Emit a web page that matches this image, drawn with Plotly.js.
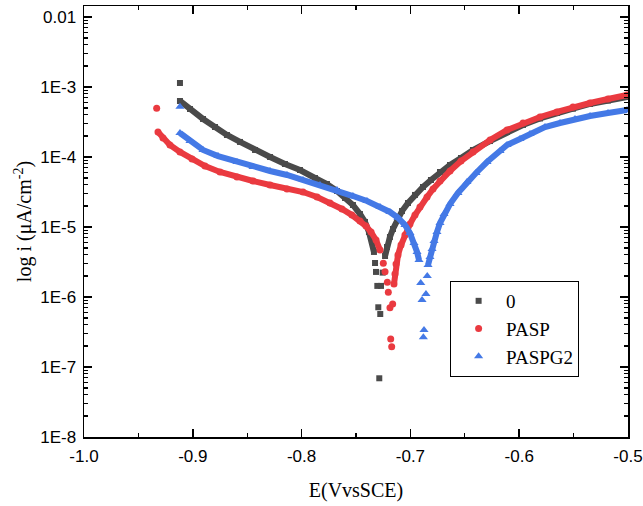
<!DOCTYPE html>
<html>
<head>
<meta charset="utf-8">
<script src="https://cdn.plot.ly/plotly-3.0.1.min.js"></script>
<style>html,body{margin:0;padding:0;background:#fff;}#chart{width:643px;height:506px;}</style>
</head>
<body>
<div id="chart"></div>
<script>
// ---- Series "0" ----
const s0CatE = [-0.9118,-0.9026,-0.8906,-0.8796,-0.8686,-0.8566,-0.8428,-0.8290,-0.8153,-0.8015,-0.7877,-0.7767,-0.7675,-0.7601,-0.7528,-0.7463,-0.7417,-0.7381,-0.7353,-0.7335];
const s0CatI = [6.31e-4,4.85e-4,3.49e-4,2.68e-4,2.06e-4,1.64e-4,1.26e-4,1.0e-4,7.94e-5,6.52e-5,5.01e-5,4.11e-5,3.27e-5,2.60e-5,2.06e-5,1.53e-5,1.18e-5,8.48e-6,6.11e-6,4.40e-6];
const s0AnoE = [-0.7233,-0.7215,-0.7188,-0.7160,-0.7123,-0.7077,-0.7022,-0.6958,-0.6884,-0.6811,-0.6728,-0.6636,-0.6535,-0.6425,-0.6268,-0.6112,-0.5965,-0.5809,-0.5653,-0.5506,-0.5349,-0.5184,-0.5009];
const s0AnoI = [3.85e-6,5.18e-6,7.20e-6,9.36e-6,1.26e-5,1.69e-5,2.20e-5,2.87e-5,3.73e-5,4.69e-5,6.11e-5,7.69e-5,9.68e-5,1.26e-4,1.69e-4,2.28e-4,2.87e-4,3.55e-4,4.25e-4,4.90e-4,5.72e-4,6.41e-4,7.20e-4];
const s0DotE = [-0.9118,-0.7325,-0.7316,-0.7255,-0.7304,-0.7270,-0.7295,-0.7277,-0.7286];
const s0DotI = [1.14e-3,3.06e-6,2.28e-6,2.23e-6,1.44e-6,1.44e-6,7.13e-7,5.71e-7,6.9e-8];

// ---- Series "PASP" ----
const s1CatE = [-0.9320,-0.9274,-0.9210,-0.9118,-0.9007,-0.8888,-0.8750,-0.8594,-0.8447,-0.8290,-0.8134,-0.7987,-0.7858,-0.7739,-0.7629,-0.7537,-0.7463,-0.7408,-0.7362,-0.7316,-0.7279];
const s1CatI = [2.28e-4,1.87e-4,1.48e-4,1.18e-4,9.36e-5,7.43e-5,6.11e-5,5.18e-5,4.54e-5,3.98e-5,3.49e-5,3.16e-5,2.68e-5,2.20e-5,1.81e-5,1.48e-5,1.22e-5,1.03e-5,8.48e-6,6.52e-6,4.69e-6];
const s1AnoE = [-0.7151,-0.7142,-0.7132,-0.7114,-0.7086,-0.7050,-0.7004,-0.6958,-0.6912,-0.6847,-0.6792,-0.6728,-0.6636,-0.6535,-0.6425,-0.6268,-0.6112,-0.5965,-0.5809,-0.5653,-0.5506,-0.5349,-0.5184,-0.5009];
const s1AnoI = [1.53e-6,2.13e-6,2.96e-6,3.98e-6,5.53e-6,7.69e-6,1.10e-5,1.48e-5,1.93e-5,2.68e-5,3.49e-5,4.54e-5,6.31e-5,8.77e-5,1.18e-4,1.75e-4,2.43e-4,3.06e-4,3.73e-4,4.40e-4,5.18e-4,5.91e-4,6.74e-4,7.69e-4];
const s1DotE = [-0.9332,-0.7249,-0.7233,-0.7212,-0.7203,-0.7188,-0.7163,-0.7181,-0.7172];
const s1DotI = [4.97e-4,3.03e-6,2.30e-6,1.62e-6,1.17e-6,7.03e-7,7.94e-7,2.51e-7,1.95e-7];

// ---- Series "PASPG2" ----
const s2CatE = [-0.9118,-0.9026,-0.8906,-0.8768,-0.8594,-0.8447,-0.8290,-0.8134,-0.7987,-0.7831,-0.7675,-0.7528,-0.7399,-0.7279,-0.7188,-0.7114,-0.7050,-0.7004,-0.6967,-0.6939,-0.6921];
const s2CatI = [2.20e-4,1.69e-4,1.26e-4,1.03e-4,8.48e-5,7.20e-5,6.31e-5,5.53e-5,4.69e-5,3.98e-5,3.38e-5,2.77e-5,2.35e-5,1.93e-5,1.64e-5,1.35e-5,1.07e-5,8.21e-6,5.91e-6,4.40e-6,3.38e-6];
const s2AnoE = [-0.6838,-0.6820,-0.6801,-0.6783,-0.6756,-0.6728,-0.6691,-0.6636,-0.6563,-0.6480,-0.6397,-0.6296,-0.6176,-0.6112,-0.5993,-0.5901,-0.5763,-0.5625,-0.5487,-0.5349,-0.5184,-0.5009];
const s2AnoI = [2.87e-6,3.73e-6,4.85e-6,6.31e-6,8.48e-6,1.14e-5,1.53e-5,2.13e-5,3.06e-5,4.40e-5,5.91e-5,8.48e-5,1.22e-4,1.48e-4,1.81e-4,2.13e-4,2.68e-4,3.06e-4,3.49e-4,3.85e-4,4.25e-4,4.69e-4];
const s2DotE = [-0.9118,-0.6905,-0.6893,-0.6875,-0.6881,-0.6857,-0.6845];
const s2DotI = [5.24e-4,1.58e-6,9.06e-7,3.38e-7,2.65e-7,1.10e-6,2.0e-6];

// ---- Names and ticks ----
const seriesNames = ['0','PASP','PASPG2'];
const xTickVals = [-1.0,-0.9,-0.8,-0.7,-0.6,-0.5];
const xTickText = ['-1.0','-0.9','-0.8','-0.7','-0.6','-0.5'];
const yTickVals = [1e-8,1e-7,1e-6,1e-5,1e-4,1e-3,1e-2];
const yTickText = ['1E-8','1E-7','1E-6','1E-5','1E-4','1E-3','0.01'];

const colors = ['#4a4a4a','#ea3a40','#4479e6'];
const symbols = ['square','circle','triangle-up'];
const msizes = [6,7,8];

const groups = [
  [s0CatE,s0CatI,s0AnoE,s0AnoI,s0DotE,s0DotI],
  [s1CatE,s1CatI,s1AnoE,s1AnoI,s1DotE,s1DotI],
  [s2CatE,s2CatI,s2AnoE,s2AnoI,s2DotE,s2DotI]
];

const traces = [];
groups.forEach((g,k)=>{
  const [cE,cI,aE,aI,dE,dI] = g;
  traces.push({
    type:'scatter', mode:'lines', showlegend:false, hoverinfo:'skip',
    x: cE.concat([null], aE), y: cI.concat([null], aI),
    line:{color:colors[k], width:6}, connectgaps:false
  });
  traces.push({
    type:'scatter', mode:'markers', name:seriesNames[k],
    x: cE.concat(aE, dE), y: cI.concat(aI, dI),
    marker:{symbol:symbols[k], size:msizes[k], color:colors[k], line:{width:0}}
  });
});

const yMinor = [];
for (let e=-8; e<-1; e++) for (let m=2; m<=9; m++) yMinor.push(m*Math.pow(10,e));

const axisCommon = {
  showline:true, linecolor:'#000', linewidth:1.5, mirror:'allticks',
  ticks:'inside', ticklen:8, tickwidth:1.5, tickcolor:'#000',
  showgrid:false, zeroline:false,
  tickfont:{family:'Liberation Sans, Arial, sans-serif', size:17, color:'#000'}
};

const layout = {
  width:643, height:506,
  margin:{l:84, r:15, t:6, b:69},
  paper_bgcolor:'#fff', plot_bgcolor:'#fff',
  xaxis: Object.assign({}, axisCommon, {
    range:[-1.0,-0.5], tickmode:'array', tickvals:xTickVals, ticktext:xTickText,
    ticklabelstandoff:3,
    minor:{tick0:-1.0, dtick:0.05, ticks:'inside', ticklen:4, tickwidth:1.2, tickcolor:'#000'},
    title:{text:'E(VvsSCE)', font:{family:'Liberation Serif, Times New Roman, serif', size:20, color:'#000'}, standoff:18}
  }),
  yaxis: Object.assign({}, axisCommon, {
    type:'log', range:[-8, -1.843], tickmode:'array', tickvals:yTickVals, ticktext:yTickText,
    ticklabelstandoff:3,
    minor:{tickmode:'array', tickvals:yMinor, ticks:'inside', ticklen:4, tickwidth:1.2, tickcolor:'#000'},
    title:{text:'log i (μA/cm<sup>-2</sup>)', font:{family:'Liberation Serif, Times New Roman, serif', size:20, color:'#000'}, standoff:3}
  }),
  legend:{
    x:0.673, y:0.362, xanchor:'left', yanchor:'top',
    bgcolor:'#fff', bordercolor:'#000', borderwidth:1,
    font:{family:'Liberation Serif, Times New Roman, serif', size:19, color:'#000'},
    itemwidth:45, tracegroupgap:0
  },
  showlegend:true
};

Plotly.newPlot('chart', traces, layout, {displayModeBar:false, staticPlot:true});
</script>
</body>
</html>
